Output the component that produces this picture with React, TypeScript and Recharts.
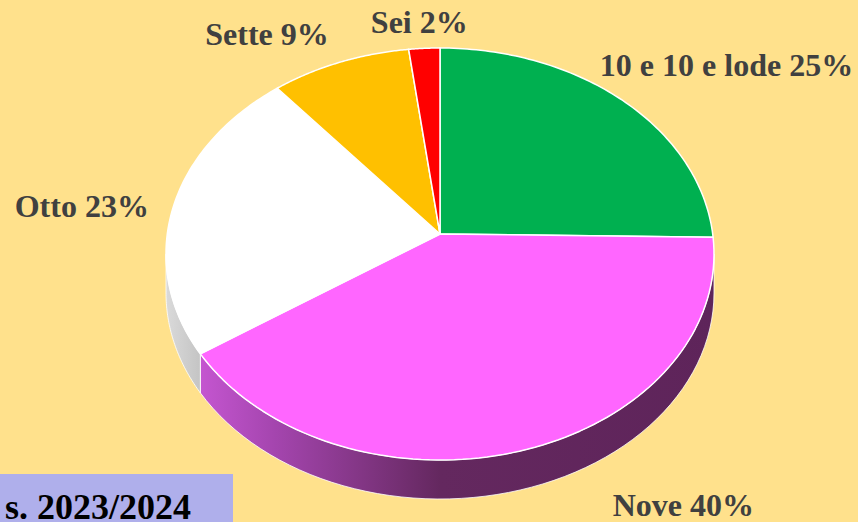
import React from 'react';
import { PieChart, Pie, Cell } from 'recharts';

// voti finali, percentuali
const categories = ['10 e 10 e lode', 'Nove', 'Otto', 'Sette', 'Sei'];
const percentages = [25, 40, 23, 9, 2];
const schoolYear = 's. 2023/2024';

const topColors = ['#00B050', '#FF66FF', '#FFFFFF', '#FFC000', '#FF0000'];
const sideColors = ['#007A38', 'url(#side-1)', 'url(#side-2)', '#B38600', '#B30000'];
// label position relative to the slice midpoint on the rim
const labelShift = [[105, -24], [159, 66], [-92, 12], [-73, -17], [-5, -15]];

const data = categories.map((name, i) => ({ name, value: percentages[i] }));

const W = 858;
const H = 522;
const TILT = 206 / 274; // ry / rx
const LIFT = 20; // apex sits above the ellipse centre (perspective)
const DEPTH = 39;

const FONT = '"Liberation Serif", "Times New Roman", serif';

// point on the rim for a Recharts angle, cast from the lifted apex
function project(cx: number, cy: number, rx: number, deg: number) {
  const ry = rx * TILT;
  const o = LIFT / ry;
  const a = (deg * Math.PI) / 180;
  const c = Math.cos(a);
  const s = Math.sin(a);
  const t = -o * s + Math.sqrt(1 - o * o * c * c);
  const u = t * c;
  const w = -o - t * s;
  return { x: cx + rx * u, y: cy + ry * w, phi: Math.atan2(w, u) };
}

function rim(cx: number, cy: number, rx: number, phi: number, drop = 0) {
  return `${(cx + rx * Math.cos(phi)).toFixed(2)},${(cy + rx * TILT * Math.sin(phi) + drop).toFixed(2)}`;
}

function Slice3D(props: any) {
  const { cx, cy, outerRadius: rx, startAngle, endAngle } = props;
  let index = props.index;
  if (index == null) index = categories.indexOf(props.payload?.name ?? props.name);
  const p0 = project(cx, cy, rx, startAngle);
  const p1 = project(cx, cy, rx, endAngle);
  const f0 = p0.phi;
  let f1 = p1.phi;
  while (f1 <= f0) f1 += Math.PI * 2;

  const steps = 90;
  const pts: string[] = [];
  for (let i = 0; i <= steps; i++) pts.push(rim(cx, cy, rx, f0 + ((f1 - f0) * i) / steps));
  const top = `M${cx},${cy - LIFT} L${pts.join(' L')} Z`;

  const sides: string[] = [];
  for (const k of [0, Math.PI * 2]) {
    const lo = Math.max(f0, k);
    const hi = Math.min(f1, k + Math.PI);
    if (hi <= lo) continue;
    const up: string[] = [];
    const down: string[] = [];
    for (let i = 0; i <= 60; i++) {
      const f = lo + ((hi - lo) * i) / 60;
      up.push(rim(cx, cy, rx, f));
      down.unshift(rim(cx, cy, rx, f, DEPTH));
    }
    sides.push(`M${up.join(' L')} L${down.join(' L')} Z`);
  }

  return (
    <g>
      <defs>
        <linearGradient id="side-1" gradientUnits="userSpaceOnUse" x1={cx - rx} y1={0} x2={cx + rx} y2={0}>
          <stop offset="0.05" stopColor="#C757D3" />
          <stop offset="0.2" stopColor="#A445AE" />
          <stop offset="0.5" stopColor="#64285F" />
          <stop offset="1" stopColor="#5E245A" />
        </linearGradient>
        <linearGradient id="side-2" gradientUnits="userSpaceOnUse" x1={cx - rx} y1={0} x2={cx - rx + 60} y2={0}>
          <stop offset="0" stopColor="#DADADA" />
          <stop offset="1" stopColor="#B4B4B4" />
        </linearGradient>
      </defs>
      {sides.map((d, i) => (
        <path key={i} d={d} fill={sideColors[index]} stroke="#FFFFFF" strokeWidth={1} strokeOpacity={0.8} />
      ))}
      <path d={top} fill={topColors[index]} stroke="#FFFFFF" strokeWidth={1.5} strokeLinejoin="round" />
    </g>
  );
}

function renderLabel(props: any) {
  const { cx, cy, midAngle, outerRadius, index } = props;
  const p = project(cx, cy, outerRadius, midAngle);
  const [dx, dy] = labelShift[index];
  return (
    <text
      x={p.x + dx}
      y={p.y + dy}
      textAnchor="middle"
      fill="#404040"
      fontFamily={FONT}
      fontWeight="bold"
      fontSize={32}
    >
      {`${categories[index]} ${percentages[index]}%`}
    </text>
  );
}

export default function App() {
  return (
    <div style={{ position: 'fixed', left: 0, top: 0, width: W, height: H, background: '#FFE18C', overflow: 'hidden' }}>
      <PieChart width={W} height={H} margin={{ top: 0, right: 0, bottom: 0, left: 0 }}>
        <Pie
          data={data}
          dataKey="value"
          nameKey="name"
          cx={440}
          cy={254}
          outerRadius={274}
          startAngle={90}
          endAngle={-270}
          stroke="none"
          shape={Slice3D}
          label={renderLabel}
          labelLine={false}
          isAnimationActive={false}
        >
          {data.map((d, i) => (
            <Cell key={d.name} fill={topColors[i]} />
          ))}
        </Pie>
      </PieChart>
      <div style={{ position: 'absolute', left: 0, top: 474, width: 233, height: 48, background: '#AFAFEB' }}>
        <svg width={233} height={48}>
          <text x={191} y={45} textAnchor="end" fill="#000000" fontFamily={FONT} fontWeight="bold" fontSize={36}>
            {schoolYear}
          </text>
        </svg>
      </div>
    </div>
  );
}
